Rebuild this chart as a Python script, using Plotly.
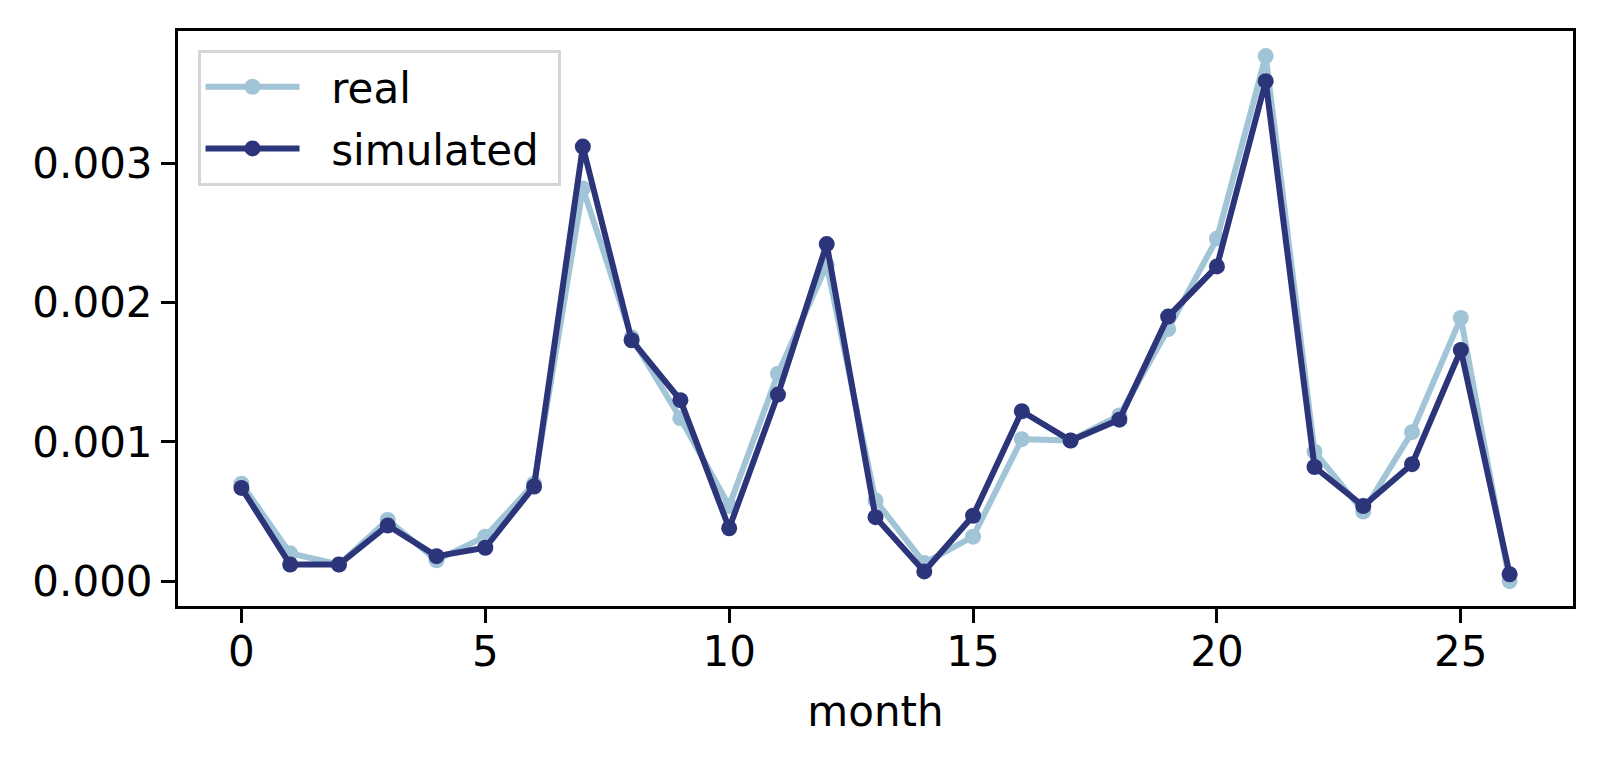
import plotly.graph_objects as go

months = list(range(27))

real = [
    0.00070, 0.00020, 0.00012, 0.00044, 0.00015, 0.00032, 0.00070, 0.00282, 0.00175,
    0.00117, 0.00054, 0.00149, 0.00227, 0.00058, 0.00013, 0.00032, 0.00102, 0.00101,
    0.00119, 0.00181, 0.00246, 0.00377, 0.00093, 0.00050, 0.00107, 0.00189, 0.00000,
]

simulated = [
    0.00067, 0.00012, 0.00012, 0.00040, 0.00018, 0.00024, 0.00068, 0.00312, 0.00173,
    0.00130, 0.00038, 0.00134, 0.00242, 0.00046, 0.00007, 0.00047, 0.00122, 0.00101,
    0.00116, 0.00190, 0.00226, 0.00359, 0.00082, 0.00054, 0.00084, 0.00166, 0.00005,
]

real_color = "#a1c4d7"
sim_color = "#2c357a"
font_size = 42

fig = go.Figure()

# light series first, dark one drawn over it
fig.add_trace(go.Scatter(
    x=months, y=real, mode="lines+markers", name="\u00a0\u00a0real",
    legendgroup="real",
    line=dict(color=real_color, width=6),
    marker=dict(color=real_color, size=16),
))
fig.add_trace(go.Scatter(
    x=months, y=simulated, mode="lines+markers", name="\u00a0\u00a0simulated\u00a0",
    legendgroup="sim",
    line=dict(color=sim_color, width=6),
    marker=dict(color=sim_color, size=16),
))

axis_common = dict(
    showline=True, mirror=True, linecolor="black", linewidth=3,
    ticks="outside", ticklen=14, tickwidth=3, tickcolor="black",
    showgrid=False, zeroline=False,
    tickfont=dict(size=font_size, color="black"),
)

fig.update_xaxes(
    range=[-1.3, 27.3], tickvals=[0, 5, 10, 15, 20, 25],
    ticklabelstandoff=-7,
    title=dict(text="month", font=dict(size=font_size, color="black"), standoff=22),
    **axis_common,
)
fig.update_yaxes(
    range=[-0.000178, 0.00395], tickvals=[0, 0.001, 0.002, 0.003],
    tickformat=".3f",
    **axis_common,
)

# page body has an 8px margin, so the figure is sized to fit inside the window
fig.update_layout(
    width=1587, height=747,
    margin=dict(l=170, r=22, t=23, b=149),
    plot_bgcolor="white", paper_bgcolor="white",
    font=dict(family="DejaVu Sans", color="black"),
    legend=dict(
        x=0.014, y=0.967, xanchor="left", yanchor="top",
        bgcolor="white", bordercolor="#d6d6d6", borderwidth=3,
        font=dict(size=font_size, color="black"),
        itemwidth=94, tracegroupgap=4,
    ),
    showlegend=True,
)

fig.write_html("out.html")
